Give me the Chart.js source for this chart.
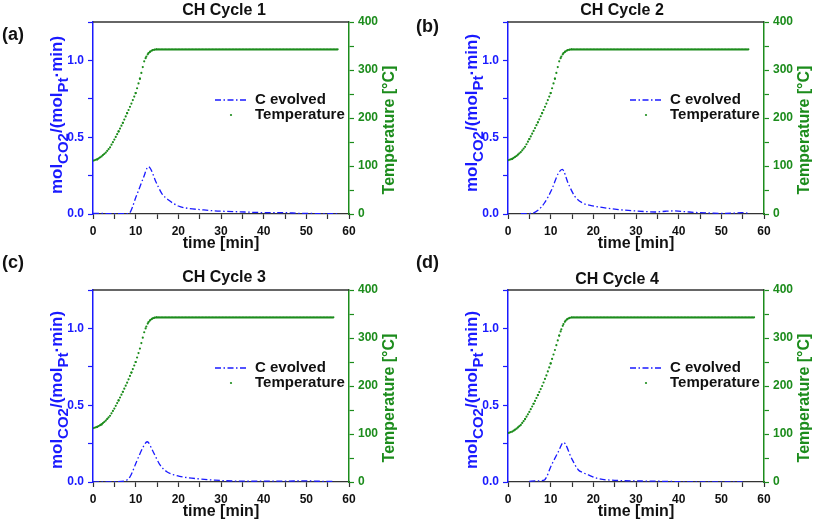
<!DOCTYPE html>
<html>
<head>
<meta charset="utf-8">
<script src="https://cdn.jsdelivr.net/npm/chart.js@4.4.1/dist/chart.umd.min.js"></script>
<style>
  body { margin: 0; background: #fff; }
  #wrap { position: relative; width: 817px; height: 524px; background: #fff; overflow: hidden; }
  #wrap canvas { position: absolute; }
  .tag { position: absolute; font: bold 18px 'Liberation Sans', Arial, sans-serif; line-height: 18px; color: #111; }
</style>
</head>
<body>
<div id="wrap">
  <canvas id="c1" width="408" height="262" style="left:0;top:0"></canvas>
  <canvas id="c2" width="409" height="262" style="left:408px;top:0"></canvas>
  <canvas id="c3" width="408" height="262" style="left:0;top:262px"></canvas>
  <canvas id="c4" width="409" height="262" style="left:408px;top:262px"></canvas>
  <div class="tag" style="left:2px;top:25px">(a)</div>
  <div class="tag" style="left:416px;top:17px">(b)</div>
  <div class="tag" style="left:2px;top:253px">(c)</div>
  <div class="tag" style="left:416px;top:253px">(d)</div>
</div>
<script>
// C evolved [mol CO2 / (mol Pt . min)] vs time [min]
const carbonTime1 = [0, 3, 6, 8.3, 10.2, 11.8, 13.0, 14.9, 16.1, 17.7, 20, 22.7, 25, 28.2, 31.3, 34.5, 37.5, 40.7, 44.5, 48.4, 52, 56, 57.5]
const carbon1 = [0.004, 0.003, 0.002, 0.002, 0.12, 0.235, 0.308, 0.2, 0.135, 0.091, 0.052, 0.035, 0.029, 0.021, 0.017, 0.014, 0.011, 0.009, 0.009, 0.004, 0.003, 0.002, 0.002]

const carbonTime2 = [3, 5.5, 7.1, 8.5, 10.2, 11.8, 12.7, 14.1, 15.7, 17.6, 19.5, 21.5, 23.4, 26.5, 29.7, 32, 34.4, 37, 39, 41.5, 44.5, 47.5, 50.8, 53, 54.7, 56.6]
const carbon2 = [0.002, 0.004, 0.026, 0.07, 0.156, 0.265, 0.291, 0.2, 0.113, 0.07, 0.055, 0.045, 0.037, 0.027, 0.02, 0.016, 0.013, 0.018, 0.02, 0.015, 0.009, 0.006, 0.004, 0.006, 0.009, 0.004]

const carbonTime3 = [0, 3, 5.5, 7.5, 8.7, 10.2, 11.8, 12.7, 14.1, 15.7, 17.3, 18.8, 20.3, 22.5, 25, 28.5, 32.8, 37, 41, 45, 50, 53, 56.6]
const carbon3 = [0.001, 0.001, 0.002, 0.007, 0.035, 0.132, 0.23, 0.262, 0.197, 0.111, 0.067, 0.048, 0.037, 0.027, 0.02, 0.012, 0.0065, 0.005, 0.006, 0.006, 0.007, 0.005, 0.003]

const carbonTime4 = [5, 6.3, 8.5, 10.2, 11.8, 13.0, 14.9, 16.5, 17.5, 19.1, 21.1, 25, 31.3, 37.5, 42, 48, 55]
const carbon4 = [0.004, 0.007, 0.013, 0.111, 0.197, 0.258, 0.154, 0.078, 0.062, 0.043, 0.022, 0.011, 0.0065, 0.004, 0.001, 0.001, 0.001]

// Temperature [°C] vs time [min]
const tempTime1 = [0, 1, 2, 3, 4, 5, 6, 7, 8, 9, 10, 11, 12, 12.5, 13, 13.5, 14, 14.5, 15, 57.5]
const temp1 = [111, 114, 120, 128, 139, 155, 172, 190, 210, 230, 252, 282, 318, 328, 335, 339, 341.5, 342.5, 343, 343]

const tempTime2 = [0, 1, 2, 3, 4, 5, 6, 7, 8, 9, 10, 11, 12, 12.5, 13, 13.5, 14, 14.5, 15, 56.6]
const temp2 = [112, 115, 121, 129, 140, 156, 173, 191, 210, 230, 252, 282, 318, 328, 335, 339, 341.5, 342.5, 343, 343]

const tempTime3 = [0, 1, 2, 3, 4, 5, 6, 7, 8, 9, 10, 11, 12, 12.5, 13, 13.5, 14, 14.5, 15, 56.6]
const temp3 = [112, 115, 120, 128, 138, 153, 170, 188, 207, 228, 250, 278, 312, 324, 333, 338, 341, 342.5, 343, 343]

const tempTime4 = [0, 1, 2, 3, 4, 5, 6, 7, 8, 9, 10, 11, 12, 12.5, 13, 13.5, 14, 14.5, 15, 57.8]
const temp4 = [102, 105, 111, 119, 131, 146, 163, 181, 200, 222, 247, 275, 305, 318, 329, 336, 340, 342, 343, 343]

const titles = ['CH Cycle 1', 'CH Cycle 2', 'CH Cycle 3', 'CH Cycle 4']
const legendLabels = ['C evolved', 'Temperature']

const FONT = "'Liberation Sans', Arial, sans-serif"
const BLUE = '#1a1aff'
const GREEN = '#1c8c1c'
const DARK = '#333'
const C_DASH = [6, 2.5, 1.5, 2.5]

Chart.defaults.font.family = FONT
Chart.defaults.color = '#000'

function pts(xs, ys) {
    return xs.map(function (x, i) { return { x: x, y: ys[i] } })
}

// draws title, axis titles (with subscripts), top frame line and legend
const decor = {
    id: 'decor',
    afterDraw(chart, args, o) {
        const ctx = chart.ctx
        const a = chart.chartArea
        ctx.save()

        ctx.strokeStyle = DARK
        ctx.lineWidth = 1.3
        ctx.beginPath()
        ctx.moveTo(a.left, a.top)
        ctx.lineTo(a.right, a.top)
        ctx.stroke()

        ctx.fillStyle = '#111'
        ctx.font = `bold 16px ${FONT}`
        ctx.textAlign = 'center'
        ctx.textBaseline = 'alphabetic'
        ctx.fillText(o.title, o.titleX, o.titleY)
        ctx.fillText('time [min]', (a.left + a.right) / 2, a.bottom + 34)

        // right axis title
        ctx.save()
        ctx.translate(a.right + 41, a.top + 108)
        ctx.rotate(-Math.PI / 2)
        ctx.fillStyle = GREEN
        ctx.textBaseline = 'middle'
        ctx.fillText('Temperature [°C]', 0, 0)
        ctx.restore()

        // left axis title: mol_CO2/(mol_Pt·min)
        const parts = [['mol', 0], ['CO2', 1], ['/(mol', 0], ['Pt', 1], ['·min)', 0]]
        const mainFont = `bold 17px ${FONT}`
        const subFont = `bold 15px ${FONT}`
        let total = 0
        parts.forEach(function (p) {
            ctx.font = p[1] ? subFont : mainFont
            total += ctx.measureText(p[0]).width
        })
        ctx.save()
        ctx.translate(a.left - 31, a.top + o.leftDy)
        ctx.rotate(-Math.PI / 2)
        ctx.fillStyle = BLUE
        ctx.textAlign = 'left'
        ctx.textBaseline = 'alphabetic'
        let x = -total / 2
        parts.forEach(function (p) {
            ctx.font = p[1] ? subFont : mainFont
            ctx.fillText(p[0], x, p[1] ? 6 : 0)
            x += ctx.measureText(p[0]).width
        })
        ctx.restore()

        // legend
        const ly1 = a.top + 78
        const ly2 = a.top + 93
        ctx.strokeStyle = BLUE
        ctx.lineWidth = 1.3
        ctx.setLineDash(C_DASH)
        ctx.beginPath()
        ctx.moveTo(a.left + 122, ly1)
        ctx.lineTo(a.left + 155, ly1)
        ctx.stroke()
        ctx.setLineDash([])
        ctx.fillStyle = GREEN
        ctx.beginPath()
        ctx.arc(a.left + 138, ly2, 1.1, 0, Math.PI * 2)
        ctx.fill()
        ctx.fillStyle = '#111'
        ctx.font = `bold 15px ${FONT}`
        ctx.textAlign = 'left'
        ctx.textBaseline = 'middle'
        ctx.fillText(legendLabels[0], a.left + 162, ly1)
        ctx.fillText(legendLabels[1], a.left + 162, ly2)

        ctx.restore()
    }
}

function plotCycle(id, cTime, cVal, tTime, tVal, box) {
    const canvas = document.getElementById(id)
    const W = canvas.width
    const H = canvas.height

    // temperature is sampled every ~20 s, so the dots spread out where the ramp is steep
    function tempDash(sc) {
        const dx = sc.p1.x - sc.p0.x
        const dy = sc.p1.y - sc.p0.y
        const len = Math.hypot(dx, dy)
        const n = Math.max(1, (tTime[sc.p1DataIndex] - tTime[sc.p0DataIndex]) * 3)
        return [0, len / n]
    }

    return new Chart(canvas, {
        type: 'line',
        data: {
            datasets: [
                {
                    label: legendLabels[0],
                    data: pts(cTime, cVal),
                    yAxisID: 'y',
                    borderColor: BLUE,
                    borderWidth: 1.3,
                    borderDash: C_DASH,
                    pointRadius: 0,
                    tension: 0.4,
                    cubicInterpolationMode: 'monotone',
                    fill: false
                },
                {
                    label: legendLabels[1],
                    data: pts(tTime, tVal),
                    yAxisID: 'y2',
                    borderColor: GREEN,
                    borderWidth: 2.2,
                    borderCapStyle: 'round',
                    pointRadius: 0,
                    tension: 0,
                    fill: false,
                    segment: { borderDash: tempDash }
                }
            ]
        },
        options: {
            responsive: false,
            animation: false,
            devicePixelRatio: 1,
            layout: { padding: { top: box.top, left: 0, right: 0, bottom: 0 } },
            plugins: {
                legend: { display: false },
                title: { display: false },
                tooltip: { enabled: false },
                decor: { title: box.title, titleX: box.titleX, titleY: box.titleY, leftDy: box.leftDy }
            },
            scales: {
                x: {
                    type: 'linear',
                    min: 0,
                    max: 60,
                    afterFit: function (s) { s.height = H - box.bottom },
                    ticks: {
                        stepSize: 5,
                        autoSkip: false,
                        maxRotation: 0,
                        padding: 5,
                        color: '#111',
                        font: { size: 12, weight: 'bold' },
                        callback: function (v) { return v % 10 === 0 ? String(v) : '' }
                    },
                    grid: { drawOnChartArea: false, tickLength: 5, tickColor: DARK, tickWidth: 1.2 },
                    border: { color: DARK, width: 1.3 }
                },
                y: {
                    position: 'left',
                    min: 0,
                    max: 1.25,
                    afterFit: function (s) { s.width = box.left },
                    ticks: {
                        stepSize: 0.25,
                        autoSkip: false,
                        padding: 4,
                        color: BLUE,
                        font: { size: 12, weight: 'bold' },
                        callback: function (v) {
                            const r = Math.round(v * 100)
                            return (r % 50 === 0 && r <= 100) ? (r / 100).toFixed(1) : ''
                        }
                    },
                    grid: { drawOnChartArea: false, tickLength: 5, tickColor: BLUE, tickWidth: 1.2 },
                    border: { color: BLUE, width: 1.5 }
                },
                y2: {
                    position: 'right',
                    min: 0,
                    max: 400,
                    afterFit: function (s) { s.width = W - box.right },
                    ticks: {
                        stepSize: 50,
                        autoSkip: false,
                        padding: 4,
                        color: GREEN,
                        font: { size: 12, weight: 'bold' },
                        callback: function (v) { return v % 100 === 0 ? String(v) : '' }
                    },
                    grid: { drawOnChartArea: false, tickLength: 5, tickColor: GREEN, tickWidth: 1.2 },
                    border: { color: GREEN, width: 1.5 }
                }
            }
        },
        plugins: [decor]
    })
}

plotCycle('c1', carbonTime1, carbon1, tempTime1, temp1,
    { left: 93, right: 349, top: 22, bottom: 214, title: titles[0], titleX: 224, titleY: 15, leftDy: 93 })
plotCycle('c2', carbonTime2, carbon2, tempTime2, temp2,
    { left: 100, right: 356, top: 22, bottom: 214, title: titles[1], titleX: 214, titleY: 15, leftDy: 91 })
plotCycle('c3', carbonTime3, carbon3, tempTime3, temp3,
    { left: 93, right: 349, top: 28, bottom: 220, title: titles[2], titleX: 224, titleY: 20, leftDy: 100 })
plotCycle('c4', carbonTime4, carbon4, tempTime4, temp4,
    { left: 100, right: 356, top: 28, bottom: 220, title: titles[3], titleX: 209, titleY: 21.5, leftDy: 100 })
</script>
</body>
</html>
